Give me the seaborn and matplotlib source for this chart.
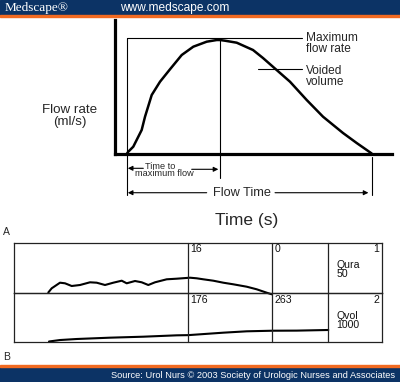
import matplotlib
matplotlib.use("Agg")
import matplotlib.pyplot as plt
import matplotlib.transforms as mtransforms
from matplotlib.patches import Rectangle
import seaborn as sns

# idealised flow curve: time (s) vs flow rate (ml/s)
flow_time = [0, 0.16, 0.77, 1.8, 2.21, 3.03, 4.05, 5.27, 6.71, 8.13, 9.77, 11.0,
             11.4, 12.01, 13.45, 15.45, 16.67, 18.35, 19.98, 22.03, 24.03, 26.48,
             28.16, 29.39, 30.0]
flow_rate = [0, 0.4, 1.5, 5.18, 8.11, 12.89, 15.82, 18.55, 21.7, 23.53, 24.63, 25.0,
             25.0, 24.85, 24.41, 22.8, 21.04, 18.39, 15.82, 11.79, 8.11, 4.52,
             2.31, 0.77, 0.0]
t_peak = 11.4
t_end = 30.0

# recorded trace (B): Qura in ml/s, Qvol in ml
qura_t = [6.76, 7.44, 9.1, 10.1, 11.44, 13.1, 15.1, 16.44, 18.1, 19.76, 21.44, 22.44,
          24.1, 25.44, 26.76, 28.1, 30.44, 32.44, 35.1, 36.44, 37.76, 39.76, 41.76,
          43.76, 46.44, 48.44, 50.44, 51.44]
qura = [0, 4.2, 9.8, 9.2, 6.5, 7.5, 10.2, 9.8, 7.5, 9.8, 11.8, 9.2,
        11.5, 10.2, 7.5, 10.2, 13.2, 13.8, 14.8, 14.2, 13.2, 11.8, 9.8,
        8.2, 5.8, 3.2, -0.2, -1.8]
qvol_t = [6.9, 9.1, 12.44, 19.1, 25.76, 32.44, 34.76, 41.76, 46.44, 51.56, 56.44, 62.76]
qvol = [0, 30, 51, 78, 98, 126, 130, 180, 208, 220, 222, 235]
markers = [34.76, 51.56, 62.76]
top_labels = ["16", "0"]
bottom_labels = ["176", "263"]

NAVY = "#0c3365"
ORANGE = "#f26a21"
W, H = 400, 382

sns.set_style("white")
plt.rcParams["font.family"] = ["Liberation Sans", "DejaVu Sans"]

fig = plt.figure(figsize=(W / 100, H / 100), dpi=100)


def fx(x):
    return x / W


def fy(y):
    return 1 - y / H


# header / footer bands
fig.patches.append(Rectangle((0, fy(15)), 1, 15 / H, transform=fig.transFigure, color=NAVY, zorder=0))
fig.patches.append(Rectangle((0, fy(17.3)), 1, 2.3 / H, transform=fig.transFigure, color=ORANGE, zorder=0))
fig.patches.append(Rectangle((0, 0), 1, 15 / H, transform=fig.transFigure, color=NAVY, zorder=0))
fig.patches.append(Rectangle((0, fy(367.3)), 1, 2.3 / H, transform=fig.transFigure, color=ORANGE, zorder=0))
fig.text(fx(5), fy(7.8), "Medscape\u00ae", family="Liberation Serif", fontsize=9.5, color="white", va="center")
fig.text(fx(120), fy(7.8), "www.medscape.com", fontsize=8.6, color="white", va="center")
fig.text(fx(395), fy(375), "Source: Urol Nurs \u00a9 2003 Society of Urologic Nurses and Associates",
         fontsize=6.7, color="white", ha="right", va="center")

# ---- panel A ----
ax1 = fig.add_axes([fx(115), fy(153.5), (392 - 115) / W, (153.5 - 20) / H])
ax1.set_facecolor("none")
sns.lineplot(x=flow_time, y=flow_rate, ax=ax1, color="black", lw=1.8, sort=False, estimator=None)
ax1.set_xlim(-1.471, 32.49)
ax1.set_ylim(0, 29.41)
ax1.set_xticks([])
ax1.set_yticks([])
ax1.set_xlabel("")
ax1.set_ylabel("")
for s in ["top", "right"]:
    ax1.spines[s].set_visible(False)
for s in ["left", "bottom"]:
    ax1.spines[s].set_linewidth(2.3)
    ax1.spines[s].set_color("black")

q_line = 25.55
thin = dict(color="black", lw=0.8, clip_on=False)
ax1.plot([0, 21.42], [q_line, q_line], **thin)
ax1.plot([16.06, 21.42], [18.62, 18.62], **thin)
ax1.plot([0, 0], [q_line, -9.14], **thin)
ax1.plot([t_peak, t_peak], [25.0, -5.4], **thin)
ax1.plot([t_end, t_end], [-0.77, -9.14], **thin)

arr = dict(arrowstyle="-|>", color="black", lw=0.8, mutation_scale=7, shrinkA=0, shrinkB=0)
ax1.annotate("", xy=(0.1, -3.26), xytext=(2.0, -3.26), arrowprops=arr, annotation_clip=False)
ax1.annotate("", xy=(11.2, -3.48), xytext=(7.93, -3.48), arrowprops=arr, annotation_clip=False)
ax1.annotate("", xy=(0.1, -8.64), xytext=(9.77, -8.64), arrowprops=arr, annotation_clip=False)
ax1.annotate("", xy=(29.6, -8.64), xytext=(18.15, -8.64), arrowprops=arr, annotation_clip=False)

fig.text(fx(145), fy(168.5), "Time to", fontsize=6.6, va="baseline")
fig.text(fx(135), fy(176.3), "maximum flow", fontsize=6.6, va="baseline")
fig.text(fx(241.7), fy(192.7), "Flow Time", fontsize=9.2, ha="center", va="center")
fig.text(fx(246.7), fy(220.7), "Time (s)", fontsize=12.5, ha="center", va="center")
fig.text(fx(70), fy(116), "Flow rate\n(ml/s)", fontsize=9.6, ha="center", va="center", linespacing=0.98)
fig.text(fx(306), fy(31.8), "Maximum\nflow rate", fontsize=8.6, va="top", linespacing=0.9)
fig.text(fx(306), fy(65), "Voided\nvolume", fontsize=8.6, va="top", linespacing=0.9)
fig.text(fx(6.5), fy(232), "A", fontsize=7.5, ha="center", va="center")
fig.text(fx(7), fy(357.5), "B", fontsize=7.5, ha="center", va="center")

# ---- panel B ----
bx0, bx1 = 14.5, 381.7
ax_q = fig.add_axes([fx(bx0), fy(292.5), (bx1 - bx0) / W, 50 / H])
ax_v = fig.add_axes([fx(bx0), fy(341.5), (bx1 - bx0) / W, 49 / H])
sns.lineplot(x=qura_t, y=qura, ax=ax_q, color="black", lw=1.5, sort=False, estimator=None)
sns.lineplot(x=qvol_t, y=qvol, ax=ax_v, color="black", lw=1.5, sort=False, estimator=None)
for ax, lim in [(ax_q, 50), (ax_v, 1000)]:
    ax.set_xlim(0, (bx1 - bx0) * 0.2)
    ax.set_ylim(0, lim)
    ax.set_xticks([])
    ax.set_yticks([])
    ax.set_xlabel("")
    ax.set_ylabel("")
    ax.set_facecolor("none")
    for s in ax.spines.values():
        s.set_linewidth(0.9)
        s.set_color("#222222")
    for m in markers:
        ax.axvline(m, color="#222222", lw=0.9)
    for ln in ax.lines:
        ln.set_clip_on(False)

tq = mtransforms.blended_transform_factory(ax_q.transData, ax_q.transAxes)
tv = mtransforms.blended_transform_factory(ax_v.transData, ax_v.transAxes)
small = dict(fontsize=7.6, color="#111111", va="center")
for m, lab in zip(markers[:2], top_labels):
    ax_q.text(m + 0.45, 0.864, lab, transform=tq, **small)
for m, lab in zip(markers[:2], bottom_labels):
    ax_v.text(m + 0.45, 0.847, lab, transform=tv, **small)
ax_q.text(0.9935, 0.864, "1", transform=ax_q.transAxes, ha="right", **small)
ax_v.text(0.9935, 0.847, "2", transform=ax_v.transAxes, ha="right", **small)
ax_q.text(64.4, 0.46, "Qura\n50", transform=tq, linespacing=0.95, **small)
ax_v.text(64.4, 0.425, "Qvol\n1000", transform=tv, linespacing=0.95, **small)

fig.savefig("out.png", dpi=100, facecolor="white")
